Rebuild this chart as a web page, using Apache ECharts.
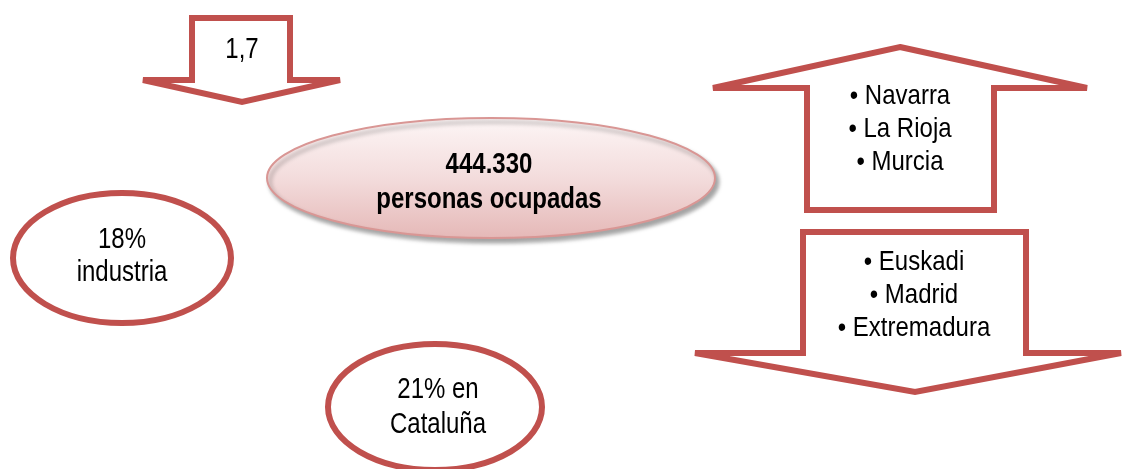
<!DOCTYPE html>
<html>
<head>
<meta charset="utf-8">
<script src="https://cdn.jsdelivr.net/npm/echarts@6/dist/echarts.min.js"></script>
<style>
html, body { margin: 0; padding: 0; background: #fff; }
#main { width: 1124px; height: 469px; }
</style>
</head>
<body>
<div id="main"></div>
<script>
// textos del esquema
var totalOcupados = ['444.330', 'personas ocupadas'];
var flechaValor = ['1,7'];
var industria = ['18%', 'industria'];
var cataluna = ['21% en', 'Cataluña'];
var regionesSuben = ['• Navarra', '• La Rioja', '• Murcia'];
var regionesBajan = ['• Euskadi', '• Madrid', '• Extremadura'];

var rojo = '#C0504D';
var fuente = '"Liberation Sans", Arial, sans-serif';

// lineas de texto centradas (un poco estiradas en vertical como el original)
function lineas(arr, cx, cy0, paso, size, weight, sy) {
	var out = [];
	for (var i = 0; i < arr.length; i++) {
		out.push({
			type: 'text',
			z: 10,
			x: cx,
			y: cy0 + i * paso,
			scaleY: sy || 1.15,
			style: {
				text: arr[i],
				x: 0,
				y: 0,
				align: 'center',
				verticalAlign: 'middle',
				fill: '#000',
				font: (weight || 'normal') + ' ' + size + 'px ' + fuente
			}
		});
	}
	return out;
}

function flecha(points) {
	return {
		type: 'polygon',
		shape: { points: points },
		style: { fill: '#fff', stroke: rojo, lineWidth: 6, lineJoin: 'miter', miterLimit: 2 }
	};
}

function elipse(cx, cy, rx, ry) {
	return {
		type: 'ellipse',
		shape: { cx: cx, cy: cy, rx: rx, ry: ry },
		style: { fill: '#fff', stroke: rojo, lineWidth: 6 }
	};
}

var elementos = [];
// flecha pequeña hacia abajo
elementos.push(flecha([[192, 18], [290, 18], [290, 80], [340, 80], [242, 102], [143, 80], [192, 80]]));
// flecha hacia arriba
elementos.push(flecha([[900, 47], [1087, 88], [994, 88], [994, 210], [807, 210], [807, 88], [713, 88]]));
// flecha grande hacia abajo
elementos.push(flecha([[803, 232], [1026, 232], [1026, 353], [1121, 353], [915, 392], [695, 353], [803, 353]]));
// elipses
elementos.push(elipse(122, 258, 109, 65));
elementos.push(elipse(435, 407, 107, 63));
// elipse central con degradado y sombra
elementos.push({
	type: 'ellipse',
	shape: { cx: 491, cy: 178, rx: 224, ry: 60 },
	style: {
		fill: new echarts.graphic.LinearGradient(0, 0, 0, 1, [
			{ offset: 0, color: '#fdf6f6' },
			{ offset: 0.5, color: '#f3dcdc' },
			{ offset: 1, color: '#e5b8b7' }
		]),
		stroke: '#d99694',
		lineWidth: 2,
		shadowColor: 'rgba(0,0,0,0.35)',
		shadowBlur: 4,
		shadowOffsetX: 3,
		shadowOffsetY: 4
	}
});

elementos = elementos
	.concat(lineas(flechaValor, 242, 50, 0, 24, 'normal', 1.2))
	.concat(lineas(totalOcupados, 489, 165, 35, 24, 'bold', 1.25))
	.concat(lineas(industria, 122, 240, 33, 24, 'normal', 1.25))
	.concat(lineas(cataluna, 438, 390, 35, 24, 'normal', 1.25))
	.concat(lineas(regionesSuben, 900, 97, 33, 24, 'normal', 1.12))
	.concat(lineas(regionesBajan, 914, 263, 33, 24, 'normal', 1.12));

var myChart = echarts.init(document.getElementById('main'));
myChart.setOption({
	animation: false,
	graphic: elementos
});
</script>
</body>
</html>
